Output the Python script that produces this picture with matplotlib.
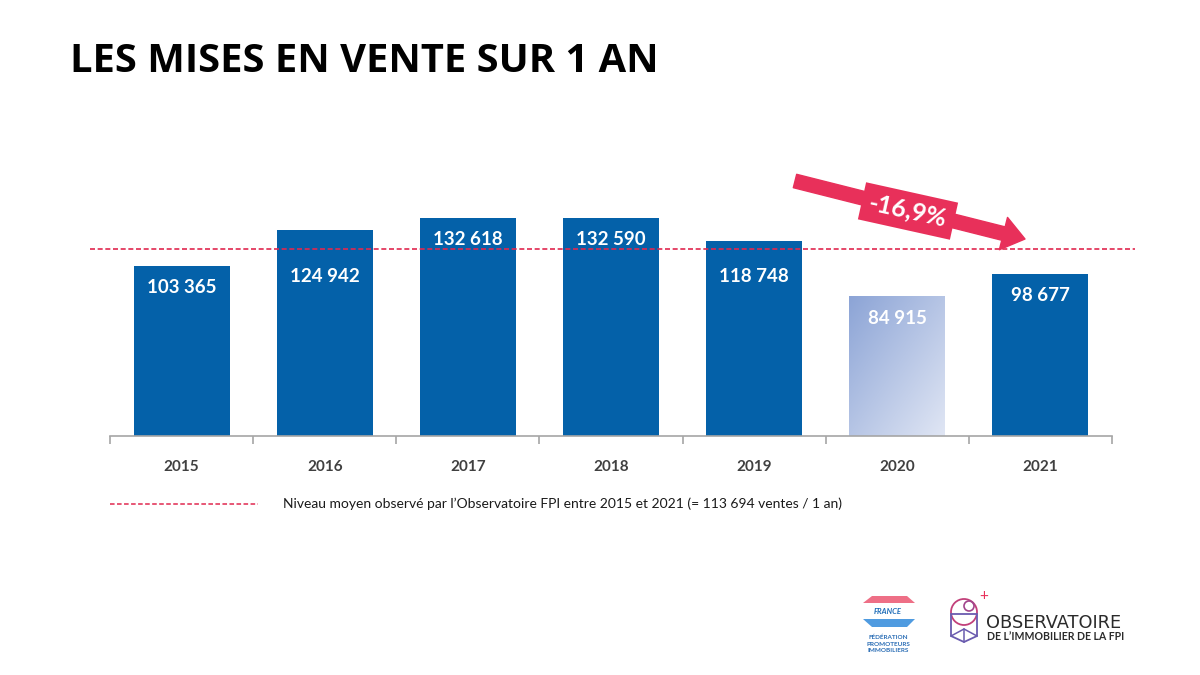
import numpy as np
import matplotlib
matplotlib.use("Agg")
import matplotlib.pyplot as plt
from matplotlib.patches import Polygon, Circle, FancyArrowPatch
from matplotlib.lines import Line2D
from matplotlib.transforms import IdentityTransform

# data
years = ["2015", "2016", "2017", "2018", "2019", "2020", "2021"]
ventes = [103365, 124942, 132618, 132590, 118748, 84915, 98677]
moyenne = 113694
titre = "LES MISES EN VENTE SUR 1 AN"
legende = "Niveau moyen observé par l\u2019Observatoire FPI entre 2015 et 2021 (= 113 694 ventes / 1 an)"

BLUE = "#0461A9"
PINK = "#E8305A"
RED_LINE = "#E0284F"

plt.rcParams["font.family"] = ["Lato", "DejaVu Sans"]

W, H = 1200, 675
fig = plt.figure(figsize=(W / 100, H / 100), dpi=100)
fig.patch.set_facecolor("white")

ymax = 140000
ax = fig.add_axes([110 / W, 239 / H, 1002 / W, 230.3 / H])
ax.set_xlim(-0.5, 6.5)
ax.set_ylim(0, ymax)

x = np.arange(len(years))
bw = 0.67
bars = ax.bar(x, ventes, width=bw, color=BLUE, zorder=2)

# 2020 bar is drawn with a light gradient (darker top-left, lighter bottom-right)
i20 = years.index("2020")
bars[i20].set_facecolor("none")
gy, gx = np.mgrid[0:1:100j, 0:1:100j]
t = np.clip(0.5 * gx + 0.5 * gy, 0, 1)
c0 = np.array([140, 164, 214]) / 255.0
c1 = np.array([224, 230, 244]) / 255.0
img = c0[None, None, :] * (1 - t[..., None]) + c1[None, None, :] * t[..., None]
im = ax.imshow(img, extent=(i20 - bw / 2, i20 + bw / 2, 0, ventes[i20]),
               origin="upper", aspect="auto", zorder=2)
im.set_clip_path(bars[i20])
ax.set_xlim(-0.5, 6.5)
ax.set_ylim(0, ymax)

# average line
ax.plot([-0.64, 6.66], [moyenne, moyenne], color=RED_LINE, lw=1.2,
        ls=(0, (3, 1.6)), clip_on=False, zorder=3)

# value labels inside bars, moved away from the dashed line
k = 230.3 / ymax  # pixels per unit
for xi, v in zip(x, ventes):
    top_px = v * k
    line_px = moyenne * k
    lab_px = top_px - 22
    if abs(lab_px - line_px) < 14:
        if line_px + 11 <= top_px - 14:
            lab_px = line_px + 9
        else:
            lab_px = line_px - 28
    txt = f"{v:,}".replace(",", " ")
    ax.text(xi, lab_px / k, txt, ha="center", va="center", color="white",
            fontsize=13.5, fontweight="bold", zorder=4)

# axes styling
for s in ["top", "right", "left"]:
    ax.spines[s].set_visible(False)
ax.spines["bottom"].set_color("#A6A6A6")
ax.spines["bottom"].set_linewidth(1.2)
ax.set_yticks([])
ax.set_xticks(x)
ax.set_xticklabels(years, fontsize=11, fontweight="bold", color="#404040")
ax.tick_params(axis="x", which="major", length=0, pad=17)
ax.set_xticks(np.arange(-0.5, 7, 1), minor=True)
ax.tick_params(axis="x", which="minor", length=6, color="#A6A6A6", width=1.2)

# title
fig.text(70 / W, 1 - 72 / H, titre, fontsize=28.7, fontweight="bold",
         color="black", ha="left", va="baseline", family=["Open Sans", "DejaVu Sans"])

# legend line and text
fig.add_artist(Line2D([110 / W, 258 / W], [1 - 504 / H] * 2, transform=fig.transFigure,
                      color=RED_LINE, lw=1.1, ls=(0, (3, 1.6))))
fig.text(283 / W, 1 - 504 / H, legende, fontsize=10, color="#1a1a1a",
         ha="left", va="center")

# evolution arrow 2019 -> 2021
pct = (ventes[-1] / ventes[-3] - 1) * 100
pct_txt = f"{pct:.1f}%".replace(".", ",")
arrow = FancyArrowPatch(posA=(795, H - 181), posB=(1025, H - 239),
                        arrowstyle="simple,head_length=1.0,head_width=1.5,tail_width=0.62",
                        mutation_scale=16, color=PINK, transform=IdentityTransform(),
                        shrinkA=0, shrinkB=0)
fig.add_artist(arrow)
fig.text(908 / W, 1 - 211 / H, pct_txt, fontsize=18, fontweight="bold", color="white",
         rotation=-12.5, rotation_mode="anchor", ha="center", va="center",
         bbox=dict(boxstyle="square,pad=0.3", fc=PINK, ec="none"))

# logos (simplified)
def px(xp, yp):
    return (xp, H - yp)

fig.add_artist(Polygon([px(872, 596), px(907, 596), px(915, 603), px(863, 603)],
                       closed=True, fc="#EE6F86", ec="none", transform=IdentityTransform()))
fig.add_artist(Polygon([px(863, 619), px(915, 619), px(907, 627), px(872, 627)],
                       closed=True, fc="#4F9BE0", ec="none", transform=IdentityTransform()))
fig.text(888 / W, 1 - 611 / H, "FRANCE", fontsize=5.5, fontstyle="italic",
         fontweight="bold", color="#1F6DB8", ha="center", va="center")
for j, mot in enumerate(["FÉDÉRATION", "PROMOTEURS", "IMMOBILIERS"]):
    fig.text(888 / W, 1 - (637 + 7 * j) / H, mot, fontsize=4.6, fontweight="bold",
             color="#2A6DB5", ha="center", va="center")

fig.add_artist(Circle(px(964, 612), 13, fill=False, ec="#C2407A", lw=1.3,
                      transform=IdentityTransform()))
fig.add_artist(Circle(px(969, 606), 5, fill=False, ec="#A0468C", lw=1.2,
                      transform=IdentityTransform()))
fig.add_artist(Polygon([px(951, 614), px(977, 614), px(977, 636), px(964, 642), px(951, 636)],
                       closed=True, fill=False, ec="#6A5BAF", lw=1.3, transform=IdentityTransform()))
fig.add_artist(Line2D([951, 964, 977], [H - 636, H - 629, H - 636], color="#6A5BAF", lw=1.1,
                      transform=IdentityTransform()))
fig.add_artist(Line2D([964, 964], [H - 629, H - 642], color="#6A5BAF", lw=1.1,
                      transform=IdentityTransform()))
fig.text(984 / W, 1 - 596 / H, "+", fontsize=11, color=PINK, ha="center", va="center")
fig.text(986 / W, 1 - 623 / H, "OBSERVATOIRE", fontsize=12.8, color="#2B2B2B",
         ha="left", va="center", family=["DejaVu Sans"])
fig.text(987 / W, 1 - 636 / H, "DE L\u2019IMMOBILIER DE LA FPI", fontsize=7.6,
         fontweight="bold", color="#2B2B2B", ha="left", va="center")

fig.savefig("out.png", dpi=100, facecolor="white")
